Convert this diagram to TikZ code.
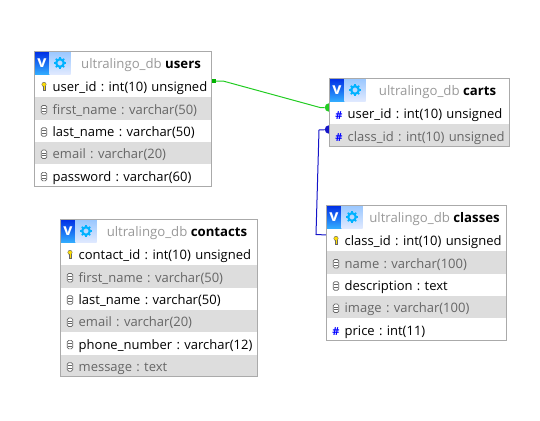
\documentclass[tikz,border=0pt]{standalone}
\usepackage{fontspec}
\setmainfont{Open Sans}
\frenchspacing
\usetikzlibrary{positioning,calc}
\definecolor{rowgray}{HTML}{DDDDDD}
\definecolor{framegray}{HTML}{AAAAAA}
\definecolor{textgray}{HTML}{666666}
\definecolor{dbgray}{HTML}{999999}
\definecolor{fkgreen}{HTML}{22CC22}
\definecolor{fkblue}{HTML}{1414C8}
\tikzset{
  rowbase/.style={rectangle, inner sep=0pt, outer sep=0pt, minimum height=22.3pt, text height=11.5pt, text depth=0pt,
    align=left, font=\fontsize{13pt}{14pt}\selectfont, execute at begin node={\hspace*{18.2pt}}},
  rowa/.style={rowbase, minimum width=#1, text width=#1, fill=white, text=black},
  rowb/.style={rowbase, minimum width=#1, text width=#1, fill=rowgray, text=textgray},
  headbox/.style={rectangle, anchor=north west, inner sep=0pt, outer sep=0pt, minimum width=#1, minimum height=23.5pt, fill=white},
  headtext/.style={inner sep=0pt, text height=11.5pt, text depth=0pt, font=\fontsize{13.2pt}{14pt}\selectfont, text=dbgray},
  iconv/.style={rectangle, anchor=north west, inner sep=0pt, outer sep=0pt, minimum width=15pt, minimum height=23pt,
    top color=blue!80!cyan!90!black, bottom color=blue!40!cyan!80, text=white, font=\bfseries\fontsize{16pt}{16pt}\selectfont},
  icongear/.style={rectangle, anchor=west, inner sep=0pt, outer sep=0pt, minimum width=21pt, minimum height=23pt,
    top color=cyan!45!blue!40, bottom color=cyan!30!blue!12},
  frame/.style={draw=framegray, line width=1pt},
  fkdot/.style={circle, inner sep=0pt, minimum size=8.5pt, fill=#1},
  numicon/.style={inner sep=0pt, text=blue, font=\bfseries\fontsize{11pt}{11pt}\selectfont},
  keyicon/.pic={
    \fill[yellow!80!orange] (0,-2.2) circle (2.2pt);
    \draw[black!60, line width=.4pt] (0,-2.2) circle (2.2pt);
    \fill[yellow!80!orange] (-1,-.5) rectangle (1,4);
    \draw[black!60, line width=.4pt] (-1,-.5) -- (-1,4) -- (1,4) -- (1,-.5);
  },
  colicon/.pic={
    \draw[textgray, line width=.7pt, fill=white, rounded corners=1.5pt] (-2.8,-4) rectangle (2.8,4.5);
    \draw[textgray, line width=.5pt] (-2,-1.2) -- (2,-1.2) (-2,1.6) -- (2,1.6);
  },
  gearicon/.pic={
    \foreach \a in {0,45,...,315}
      \draw[blue!30!cyan, line width=1.6pt] (\a:3.5) -- (\a:6);
    \draw[blue!30!cyan, line width=2.2pt] (0,0) circle (3.8pt);
  },
}
\begin{document}
\begin{tikzpicture}[x=1pt,y=-1pt]
  \useasboundingbox (0,0) rectangle (540,420);
  % connector ends, the tables go over them
  \node (usersfk) [rectangle, inner sep=0pt, minimum width=4pt, minimum height=3.5pt, fill=green!70!black] at (213.5,81) {};
  \node (cartsfk1) [fkdot=fkgreen] at (329,107.5) {};
  \node (cartsfk2) [fkdot=fkblue] at (329,129.5) {};
  \node (classfk) [inner sep=0pt, minimum size=1pt] at (327,235) {};
  \coordinate (bend1) at (223,81);
  \coordinate (bend2) at (320,107.5);
  \coordinate (bend3) at (319,130);
  \coordinate (bend4) at (316,234.5);
  \draw [fkgreen, line width=1pt] (usersfk) -- (bend1) -- (bend2) -- (cartsfk1);
  \draw [fkblue, line width=1pt] (cartsfk2) -- (bend3) -- (bend4) -- (classfk);

  % users
  \node (users0) [headbox=177pt] at (34.5,51.5) {};
  \node (users0v) [iconv] at (users0.north west) {v};
  \node (users0g) [icongear] at (users0v.east) {};
  \pic at (users0g.center) {gearicon};
  \node (users0t) [headtext] at ($(users0g.east)!.5!(users0.east)$) {ultralingo\_db \textcolor{black}{\bfseries users}};
  \node (users1) [rowa=177pt, below=0pt of users0] {user\_id : int(10) unsigned};
  \node (users2) [rowb=177pt, below=0pt of users1] {first\_name : varchar(50)};
  \node (users3) [rowa=177pt, below=0pt of users2] {last\_name : varchar(50)};
  \node (users4) [rowb=177pt, below=0pt of users3] {email : varchar(20)};
  \node (users5) [rowa=177pt, below=0pt of users4] {password : varchar(60)};
  \pic at ([xshift=9.5pt,yshift=-.5pt]users1.west) {keyicon};
  \pic at ([xshift=9.5pt,yshift=-1pt]users2.west) {colicon};
  \pic at ([xshift=9.5pt,yshift=-1pt]users3.west) {colicon};
  \pic at ([xshift=9.5pt,yshift=-1pt]users4.west) {colicon};
  \pic at ([xshift=9.5pt,yshift=-1pt]users5.west) {colicon};
  \draw [frame] (users0.north west) rectangle (users5.south east);

  % carts
  \node (carts0) [headbox=180pt] at (329.5,78.5) {};
  \node (carts0v) [iconv] at (carts0.north west) {v};
  \node (carts0g) [icongear] at (carts0v.east) {};
  \pic at (carts0g.center) {gearicon};
  \node (carts0t) [headtext] at ($(carts0g.east)!.5!(carts0.east)$) {ultralingo\_db \textcolor{black}{\bfseries carts}};
  \node (carts1) [rowa=180pt, below=0pt of carts0] {user\_id : int(10) unsigned};
  \node (carts2) [rowb=180pt, below=0pt of carts1] {class\_id : int(10) unsigned};
  \node (carts1n) [numicon] at ([xshift=9.5pt,yshift=-2.5pt]carts1.west) {\#};
  \node (carts2n) [numicon] at ([xshift=9.5pt,yshift=-2.5pt]carts2.west) {\#};
  \draw [frame] (carts0.north west) rectangle (carts2.south east);

  % classes
  \node (classes0) [headbox=180pt] at (326.5,205.5) {};
  \node (classes0v) [iconv] at (classes0.north west) {v};
  \node (classes0g) [icongear] at (classes0v.east) {};
  \pic at (classes0g.center) {gearicon};
  \node (classes0t) [headtext] at ($(classes0g.east)!.5!(classes0.east)$) {ultralingo\_db \textcolor{black}{\bfseries classes}};
  \node (classes1) [rowa=180pt, below=0pt of classes0] {class\_id : int(10) unsigned};
  \node (classes2) [rowb=180pt, below=0pt of classes1] {name : varchar(100)};
  \node (classes3) [rowa=180pt, below=0pt of classes2] {description : text};
  \node (classes4) [rowb=180pt, below=0pt of classes3] {image : varchar(100)};
  \node (classes5) [rowa=180pt, below=0pt of classes4] {price : int(11)};
  \pic at ([xshift=9.5pt,yshift=-.5pt]classes1.west) {keyicon};
  \pic at ([xshift=9.5pt,yshift=-1pt]classes2.west) {colicon};
  \pic at ([xshift=9.5pt,yshift=-1pt]classes3.west) {colicon};
  \pic at ([xshift=9.5pt,yshift=-1pt]classes4.west) {colicon};
  \node (classes5n) [numicon] at ([xshift=9.5pt,yshift=-2.5pt]classes5.west) {\#};
  \draw [frame] (classes0.north west) rectangle (classes5.south east);

  % contacts
  \node (contacts0) [headbox=197pt] at (60.5,219.5) {};
  \node (contacts0v) [iconv] at (contacts0.north west) {v};
  \node (contacts0g) [icongear] at (contacts0v.east) {};
  \pic at (contacts0g.center) {gearicon};
  \node (contacts0t) [headtext] at ($(contacts0g.east)!.5!(contacts0.east)$) {ultralingo\_db \textcolor{black}{\bfseries contacts}};
  \node (contacts1) [rowa=197pt, below=0pt of contacts0] {contact\_id : int(10) unsigned};
  \node (contacts2) [rowb=197pt, below=0pt of contacts1] {first\_name : varchar(50)};
  \node (contacts3) [rowa=197pt, below=0pt of contacts2] {last\_name : varchar(50)};
  \node (contacts4) [rowb=197pt, below=0pt of contacts3] {email : varchar(20)};
  \node (contacts5) [rowa=197pt, below=0pt of contacts4] {phone\_number : varchar(12)};
  \node (contacts6) [rowb=197pt, below=0pt of contacts5] {message : text};
  \pic at ([xshift=9.5pt,yshift=-.5pt]contacts1.west) {keyicon};
  \pic at ([xshift=9.5pt,yshift=-1pt]contacts2.west) {colicon};
  \pic at ([xshift=9.5pt,yshift=-1pt]contacts3.west) {colicon};
  \pic at ([xshift=9.5pt,yshift=-1pt]contacts4.west) {colicon};
  \pic at ([xshift=9.5pt,yshift=-1pt]contacts5.west) {colicon};
  \pic at ([xshift=9.5pt,yshift=-1pt]contacts6.west) {colicon};
  \draw [frame] (contacts0.north west) rectangle (contacts6.south east);
\end{tikzpicture}
\end{document}
